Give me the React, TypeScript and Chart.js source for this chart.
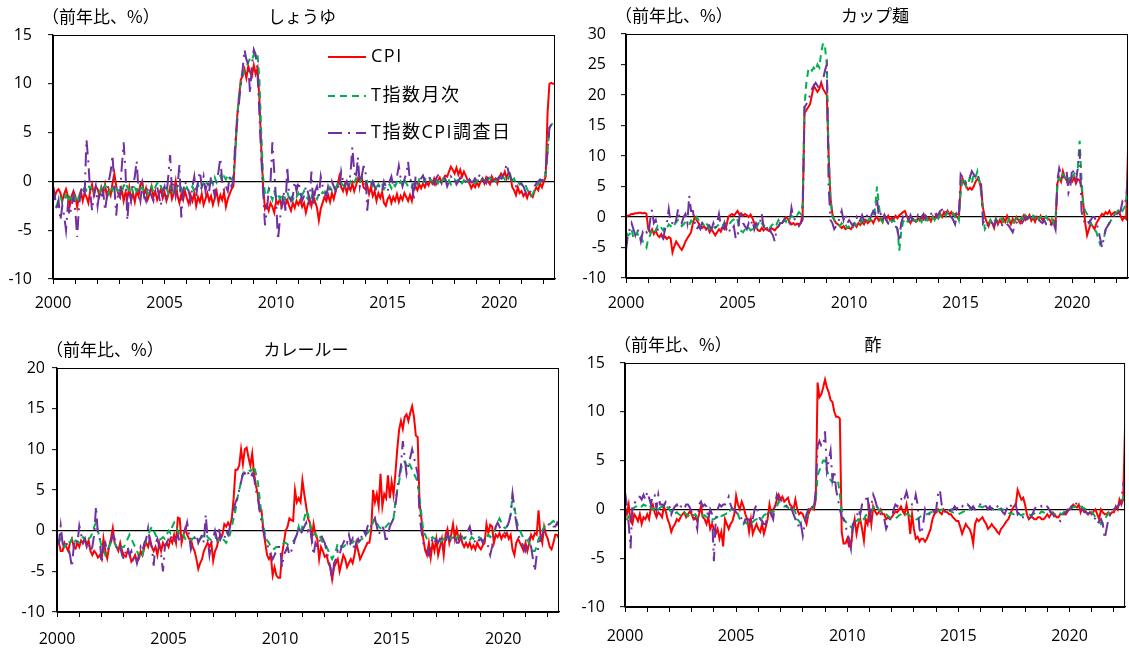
import React, { useEffect, useRef } from "react";
import { Chart, registerables } from "chart.js";

Chart.register(...registerables);

// ---------- axis / label data ----------
const START_YEAR = 2000;
const END_X = 2022.5;
const YEAR_TICKS = [2000, 2001, 2002, 2003, 2004, 2005, 2006, 2007, 2008, 2009, 2010, 2011, 2012, 2013, 2014, 2015, 2016, 2017, 2018, 2019, 2020, 2021, 2022];
const LABELED_YEARS = [2000, 2005, 2010, 2015, 2020];
const SERIES_NAMES = ["CPI", "T指数月次", "T指数CPI調査日"];
const UNIT_LABEL = "（前年比、%）";
const TITLES = ["しょうゆ", "カップ麺", "カレールー", "酢"];

// ---------- しょうゆ (monthly, 2000/01 - 2022/07) ----------
const soyCpi = [
  -0.5, -1.5, -1, -0.8, -1.2, -2, -1.3, -0.8, -1.5, -2.5, -1.5, -1,
  -1.5, -2.6, -1.5, -1, -2, -1.2, -1.6, -2.2, -1, -0.3, -1.4, -0.5,
  -0.8, -1.5, -0.6, -1.2, -0.3, -1.6, -0.8, -1.4, -0.2, 0.8, -0.5, -1.2,
  -1.6, -0.8, -2, -1.1, -1.7, -0.6, -1.9, -1.2, -2.1, -1, -1.5, -0.3,
  0, -1.4, -0.7, -1.8, -1.2, -0.5, -1.6, -1, -1.9, -1.3, -0.8, -1.7,
  -1.1, -2, -1.4, -0.6, -1.8, -1.2, 0, -1.5, -2.2, -1.3, -1.9, -1,
  -1.7, -2.3, -1.4, -2, -1.2, -2.5, -1.6, -2.1, -1.3, -2.4, -1.8, -1.2,
  -2, -1.5, -2.4, -1.7, -1, -2.2, -1.4, -1.9, -1.1, -2.6, -1.8, -1.3,
  -0.8, -0.5, 3, 6.5, 8.5, 10.4, 10.8, 11.5, 10.6, 11.8, 11.2, 10.8,
  11.9, 11, 11.6, 8.5, 3.5, -0.5, -2.8, -2.4, -3, -2.2, -2.6, -3.2,
  -2, -2.3, -1.8, -2.6, -2.1, -2.4, -1.9, -2.5, -3, -2.2, -2.7, -2,
  -2.4, -1.9, -2.6, -2.2, -3.2, -2.4, -1.8, -2.5, -1.5, -2.1, -2.7, -4,
  -2.8, -2.2, -1.6, -2, -1.4, -2.1, -1.2, -1.8, -1, -0.4, 0.5, -0.6,
  -1, -0.3, -1.2, -0.5, -0.9, -0.2, -1, -0.4, 0.3, 0, 0.5, -0.6,
  -0.8, -0.4, -1.3, -0.6, -1.5, -1, -2, -1.2, -1.7, -1.1, -2.2, -2.5,
  -1.8, -1.5, -2.2, -1.6, -2, -1.3, -2.1, -1.5, -1.9, -1.2, -1.6, -2,
  -1.4, -2, -0.8, -0.5, -0.9, -0.3, -0.7, -0.2, -0.6, -0.1, -0.4, 0.2,
  -0.2, 0.3, -0.3, 0.1, 0.4, -0.1, 0.3, 0.6, 0.5, 1, 1.5, 1.2,
  0.8, 1.4, 0.7, 1.2, 0.5, 1, 0.6, 0.1, -0.2, -0.7, -0.3, -0.6,
  -0.1, -0.5, 0, 0.3, -0.2, 0.4, 0, -0.3, 0.5, 0.1, 0.3, -0.2,
  0.4, 0.8, 0.5, 1, 0.3, 0.9, 0.6, -0.6, -0.9, -1.4, -0.6, -1.2,
  -1, -1.5, -1.2, -1.7, -1.1, -1.4, -1.6, -1, -0.6, -0.9, -0.2, -0.6,
  0, 0.5, 7, 10, 10.1, 10, 10,
];
const soyMonthly = [
  -1.2, -2, -2.5, -1.8, -1.5, -2.2, -1.9, -1.4, -2.1, -1.6, -1.8, -1.3,
  -1.7, -2.2, -1.5, -1.2, -1, -0.6, -0.9, -0.4, -0.8, -0.5, -1.1, -0.7,
  -0.9, -1.2, -0.6, -1, -0.4, -0.8, -1.3, -0.5, -0.9, -0.3, -0.7, -1,
  -0.8, -1.1, -0.5, -0.1, -0.6, -0.9, -0.4, -1.2, -0.7, -1, -0.5, -0.8,
  -0.6, -1, -0.7, -1.3, -0.8, -0.5, -1.1, -0.6, -0.2, 0, -0.5, -0.9,
  -1.1, -0.7, -1.2, -0.6, -0.9, -1.4, -0.8, -0.5, -1, -0.7, -1.2, -0.9,
  -0.6, -1, -0.8, -0.5, -1.1, -0.7, -0.3, -0.9, -0.6, -0.2, -0.5, -0.1,
  -0.4, 0.2, -0.3, 0.4, -0.1, 0.3, 0.6, 0, 0.5, 0.2, 0.7, 0.3,
  0.2, 0.5, 2.5, 6.5, 8.8, 10, 10.8, 11.3, 11.8, 12.2, 12.6, 12.4,
  13, 12.8, 13.1, 10.5, 5, 0.5, -1.2, -1.5, -0.8, -1.4, -1.9, -1.1,
  -1.6, -1.2, -1.8, -1.4, -2, -1.5, -1.1, -1.7, -1.3, -1.9, -1.4, -1.6,
  -1.2, -1.7, -1.4, -1, -1.5, -1.8, -1.2, -1.6, -1.1, -1.4, -1.8, -1.3,
  -1.5, -1.1, -1.2, -0.8, -1, -0.6, -0.9, -0.5, -0.7, -0.3, -0.5, -0.2,
  -0.4, -0.6, -0.2, -0.5, 0, -0.3, -0.1, 0.3, 0, -0.2, 0.4, 0.1,
  -0.3, 0, -0.4, -0.1, -0.5, -0.2, -0.6, -0.3, -0.7, -0.4, -0.8, -0.5,
  -0.6, -0.3, -0.7, -0.2, -0.5, -0.1, -0.4, 0, -0.3, 0.2, -0.2, -0.5,
  -0.3, -0.6, -0.2, 0.1, -0.3, 0.2, 0, -0.2, 0.3, 0.1, -0.1, 0.2,
  0, -0.3, 0.1, -0.2, 0.2, -0.1, 0.3, 0, -0.2, 0.1, -0.3, 0,
  0.2, -0.1, 0.3, 0, -0.2, 0.1, -0.3, 0, 0.2, -0.1, 0.1, -0.2,
  0, 0.2, -0.1, 0.3, 0.1, -0.2, 0.2, 0.4, 0.1, 0.3, 0, 0.2,
  0.4, 0.1, 0.5, 0.2, 0.6, 0.3, 0.7, 0.1, 0.3, -0.2, 0, -0.3,
  -0.2, -0.5, -0.3, -0.8, -1.2, -1.5, -1.3, -0.9, -0.6, -0.3, 0, 0.2,
  0.3, 0.8, 3, 5.5, 5.8, 6, 5.8,
];
const soyDay = [
  -0.5, -1.5, -3, -2, -4, -2.5, -3.5, -5, -2.5, -3.5, -2.5, -1.5,
  -3, -5.7, -2.5, -1, -0.5, -1.5, 4.3, 2, -1, -3, -1.5, -0.5,
  -2.5, -1, -1.8, -1, -3, -1.5, 0, 1, 2.7, -0.5, -3.5, -1,
  -1.5, 1.5, 4, 1, -4, -1, -2, -0.5, 0.5, 2.1, -1, -2,
  -0.3, -1.5, -2, -0.5, -1, -1.5, -2, -1, -0.5, -1.5, -2.5, -1,
  -0.5, -1.5, 0.5, 2.7, -1, 0, -1.5, -0.5, 1.7, -3.7, -1, 0,
  -0.5, -1, -2, -0.5, 0.5, -1.5, 0, 1, -0.5, 0.5, -1, 0,
  -1, 0.5, -0.5, -1.5, 0, 1, 2.4, 0, -1, -0.5, -1, 0.5,
  -0.5, 0, 4, 6, 8, 10, 11.5, 13.5, 12.5, 12, 9, 12,
  13.5, 13, 11, 7, 2.5, -1, -4.5, -3, -1, 0, 4, 1,
  -2, -6, -4, -2.5, -1, -3, 1.5, -1.5, -2, -1.5, 0, -1,
  0, -1, -2, -1.5, -0.5, -1, -2, 1, -2.5, -1, -0.5, -1.5,
  0.5, -0.5, -1, -1.5, -0.5, -1, 0, -0.5, -1, -0.3, -0.8, 1,
  0, -0.5, 0, -0.5, 0.8, 3.5, 1, 0.3, 2.5, -0.5, 0.5, 1.5,
  1.5, -3, -1, -0.5, 0, -0.5, -1, -0.5, -0.5, -1, 0, -0.5,
  -1, 0, 0.5, -0.5, 0, 0.5, 1.6, 0.3, -0.5, 0.2, 0.8, 2,
  0, 0.3, -2, 0.5, -0.3, 0, 0.3, 0.6, 0, -0.3, 0.2, 0.5,
  0, -0.3, 0.3, 0.6, 0.2, -0.2, 0.4, 0.3, -0.5, 0, 0.5, 0.2,
  0.3, -0.3, 0, 0.4, 0.1, -0.2, 0, -0.3, 0.2, -0.1, 0, 0.3,
  0, 0.5, 0.8, 0.2, 0, -0.2, 0.5, 0.3, 0, 0.5, 0.3, 0.2,
  0.5, 0.3, 0.6, 1, 1.8, 1, 0.5, 0, -0.3, -0.5, -0.2, 0,
  -0.3, -0.5, -1, -1.5, -1.2, -1, -0.7, -0.5, -0.2, 0, 0.2, 0,
  0.5, 1, 3, 5.5, 5.8, 6, 6,
];

// ---------- カップ麺 ----------
const cupCpi = [
  0, 0.2, 0.3, 0.5, 0.5, 0.6, 0.6, 0.7, 0.7, 0.6, 0.7, 0.5,
  -2, -2.5, -2, -2.8, -2.2, -3, -3.3, -2.8, -3.5, -3.2, -3.6, -3.3,
  -3.5, -5.8, -4.8, -4, -4.5, -5, -5.4, -4.8, -4, -3.5, -3, -2.5,
  -1, 0, -0.5, -1, -1.5, -1.8, -1.5, -2, -1.7, -2.5, -2, -2.5,
  -3, -2.5, -2, -2.4, -1.6, -2, -1.5, 0, 0.3, 0.5, 0.2, 0.6,
  1, 0.4, 0.6, 0.2, 0.5, 0.3, 0, 0.4, -0.2, -1, -1.6, -2.2,
  -2.3, -1.8, -2.2, -1.9, -2.1, -2.3, -1.8, -2, -2.2, -1.8, -1.5, -1,
  -1, -0.5, 0, -0.3, -0.8, -1.2, -1, -1.3, -1.1, -1.2, -1, 0.5,
  17, 17.5, 18, 18.5, 20, 21.5, 21, 20.5, 21, 22, 21, 20.5,
  20, 10, 3, 0.5, -0.5, -1, -1.2, -1.5, -1.8, -1.5, -2, -1.8,
  -1.8, -2, -1.5, -1.2, -1.6, -1, -1.3, -0.8, -1.2, -0.5, -1, -0.7,
  -0.5, -1, -0.3, 0, -0.6, -0.2, -0.8, 0.3, -0.4, 0.2, -0.5, -0.1,
  -0.3, 0.2, -0.2, 0.3, 0.5, 0.8, 1, 0.2, -0.5, -1, -0.3, -0.6,
  -0.8, -0.2, -0.6, 0, -0.4, 0.2, -0.5, -0.1, -0.7, 0.1, -0.3, 0.4,
  -0.2, 0.5, 0, 0.8, 0.2, 1, 0.4, 0.8, 0.3, 0.5, 0, -0.3,
  5, 6.3, 5.5, 5, 4.5, 4.8, 4.5, 5, 5.8, 6.2, 6, 4.5,
  1.5, 0, -0.8, -1.5, -0.5, -1, -1.8, -0.3, -1.2, -0.5, -1, -0.2,
  -0.8, 0.2, -0.5, -1.2, -0.3, -0.8, 0, -0.5, -1, -0.3, 0.3, -0.5,
  -0.2, 0.3, -0.6, -0.1, -0.8, 0, -0.4, 0.2, -0.5, -0.2, 0.1, -0.3,
  -0.5, -1.2, -0.6, -1.4, 5.5, 6.5, 5.8, 7.5, 6.5, 6, 5.5, 6.2,
  5.8, 6.5, 5.5, 6.2, 6, 5, 2, -1, -3, -2, -1, -1.5,
  -2, -1, -0.5, 0, 0.5, 0.3, 0.8, 0.5, 1, 0.3, 0.6, 0.8,
  0.5, 1, 0.2, -0.5, 0, -0.3, 11,
];
const cupMonthly = [
  -2.5, -3, -2.8, -2, -3.5, -3, -2.5, -3.5, -3.2, -4, -4.5, -5,
  -3.5, -3, -2, -2.5, -2.2, -1.5, -2, -1.8, -2.2, -1.5, -1.8, -1.2,
  -1.5, -1, -1.3, -0.8, -0.5, -1, -1.5, -1.2, -0.8, -1, -1.3, -0.6,
  -1, -0.6, 0, -0.5, -1.5, -1, -1.3, -0.8, -1.5, -2, -1.7, -1.5,
  -1.8, -1.5, -1.2, -1, -1.4, -0.9, -1.5, -1.2, -1, -0.6, -0.4, 0,
  -0.5, -2, -2.3, -2.5, -2, -1.5, -1.8, -2.2, -2, -1.5, -1.8, -1.2,
  -0.5, -1, -1.5, -2, -1.8, -2, -1.5, -1.2, -0.8, -1.2, -0.5, -1,
  -1, -0.5, -0.8, 0, -0.3, 0.2, 0, 0.5, 0.3, 0.8, 0.5, 2,
  18, 22, 24, 24.5, 24, 24.5, 24, 25, 24.5, 27, 28.5, 28,
  25, 10, 3, 0, -0.5, -1, -1.2, -1.5, -1, -1.5, -1.2, -1.8,
  -1.5, -1.2, -1.6, -1, -1.3, -0.8, -1, -0.5, -0.8, -0.3, -0.6, -0.2,
  -0.5, -0.2, 1.5, 5, 2, -0.5, -0.8, 0, -0.5, -1, -0.3, -0.8,
  -0.5, -1, -2, -5.5, -2.5, -0.8, -0.5, -1, -0.3, -0.8, -0.2, -0.6,
  -0.5, -1, -0.3, -0.8, 0, -0.5, -0.2, -0.8, -0.3, 0, -0.5, 0.2,
  -0.2, 0.3, 0, 0.5, 0.2, 0.8, 0.5, 0.2, 0.6, 0, 0.3, -0.5,
  4, 6, 6.5, 5, 5.5, 6.5, 5.5, 7, 6.5, 7.5, 6, 4,
  0.5, -2, -1.5, -1, -0.5, -1.2, -0.8, -0.3, -1, -0.6, -0.2, -0.8,
  -0.5, -1, -0.3, -0.8, -1.2, -0.5, -0.2, -0.8, -0.4, 0, -0.5, 0.2,
  -0.3, 0, -0.5, 0.2, -0.2, 0.3, -0.4, 0, 0.3, -0.2, 0.1, -0.5,
  -0.8, -0.3, -1, -0.5, 5, 6.5, 6, 7, 6.5, 5.5, 6, 7,
  6.5, 7, 7.5, 8, 12.5, 6, 2, 1, 0.5, 0, -1, -1.6,
  -2, -2.5, -3.5, -4.5, -4, -3.5, -2, -1.5, -1, -0.5, 0, 0.5,
  0.8, 1.2, 1.5, 1, 1.5, 2, 8,
];
const cupDay = [
  -5.5, -3, -2, -1, -2, -3, -2, -2.5, -4, -2.5, -3, -2.5,
  -3, -0.5, 1.2, -1, -0.5, -2, -2.5, -3, -3.5, -2, -1, 1.3,
  -1, -1, -1.5, -0.5, 1.3, -0.5, -1, 0, 0.5, -1, 3.5, 1,
  1, -1, -2, -1.5, -2, -1, -1.5, -2, -1, -1.5, -2, -1,
  -2, -1, 0.5, -1.5, -2.5, -1, -2, -1.5, -2.5, -2, -1.5, -3.5,
  -3.5, 0, 1, -1, -1.5, -2, -1, -1.5, -0.5, -2, -1, -1.5,
  -1, 0.5, -1.5, -1, -2, -1.5, -2.5, -3, -4, -2, -1.5, -1,
  -1, -0.5, 0, -0.5, -1, 1.5, 0, -0.5, -1, -1.5, -1, -0.5,
  18, 18.5, 19, 20, 21, 21.5, 22, 21.5, 21, 22, 22.5, 24,
  25, 5, -0.5, -1, -2, -1.5, -1, 0, 1, -0.5, 0.5, -1,
  -0.5, -1, -1.5, -0.5, 0, -1, -0.5, 0.3, -0.5, 0.5, 0, -0.5,
  0.3, 1, 0.5, 3, 0, 0.5, -0.5, 0.3, -0.5, -1, -0.5, -0.2,
  -0.8, -1.5, -2, -4, -1, 0, -0.5, 0.5, -0.5, 0.3, -0.5, 0,
  -0.3, 0.3, -0.5, 0, 0.5, -0.2, 0.3, 0, 0.5, 0.8, 1, 0,
  0.5, 1, 1.2, 0.5, 0.8, 1, 0.3, 0, -0.5, -1.2, 0.5, 0,
  7, 6.5, 6, 5.5, 6, 6.5, 7.5, 7, 6.5, 7, 6, 5.5,
  -1, -0.5, -1.2, -1.5, -0.8, -1, -1.5, -0.5, -1, -1.2, -1.5, -1,
  -0.8, -1.2, -1.5, -2, -2.5, -1.5, -1, -0.5, -0.8, -1, -0.5, 0,
  -0.3, 0, 0.3, 0.5, 0, -0.5, -0.3, -0.8, -1, -0.5, -1.2, -1.5,
  -1, -1.5, -1, -2, 6, 8, 7, 6.5, 7, 7.5, 4, 5,
  8, 7, 6, 8, 11, 1, -0.5, -1, -0.5, -1, -0.5, 0,
  0, -1, -2, -3.5, -5, -3.5, -2, -1.5, -1, -0.5, 0, 0.3,
  0, 0.5, 1, 2.5, 2, 3, 7,
];

// ---------- カレールー ----------
const curryCpi = [
  -1, -1.5, -2.5, -2.5, -1.5, -2, -2.5, -1.5, -1, -2, -2.2, -1.5,
  -2, -1.2, -1.5, -1, -1.8, -1.2, -2.5, -3, -2.5, -2.8, -3.3, -3,
  -3.5, -1, -2.5, -3.4, -2, -1, 0.3, -1.5, -2, -2.5, -1.5, -2.5,
  -3, -3.2, -2.5, -2.8, -3.8, -3.5, -3, -3.8, -3.5, -2.5, -3, -2,
  -1.5, -2, -1, -2, -2.5, -2, -3, -1.5, -2.5, -1.5, -2, -1.5,
  -2, -1, -1.5, -0.5, -1.5, 1.6, 1.5, -1.5, -0.5, 0.3, -0.5, -1,
  -1, -2, -2.5, -3.5, -4.7, -4, -3.5, -2.5, -2, -1.5, -2, -1.5,
  -3.7, -2.5, -2, -1, -0.5, -0.5, 0.8, 0.5, 1, 0.5, 1.5, 4,
  7.5, 7.5, 8, 10, 8.2, 10, 10.2, 9, 8, 9.5, 7, 5.5,
  4.5, 2.5, 2.5, 0, -1.5, -3, -3.5, -3, -5.5, -4.5, -5.5, -5.8,
  -5.8, -3, -1.5, 0, 0.5, 1.5, 1.3, 1.2, 5, 3.5, 4, 3.5,
  6.2, 4.5, 3, 1.5, 1, -1, 0.8, -0.5, -1, -3.5, -2, -2.5,
  -3.2, -3, -4, -4.5, -6, -4.5, -4, -3.5, -5, -4, -3, -3.5,
  -4.5, -4, -3.5, -4, -3, -1.5, -2.5, -3.5, -3, -2.5, -2, -1.5,
  -1.5, 0, 5, 3.5, 4.5, 3, 7, 3, 4.5, 4, 6.8, 4,
  6, 4.4, 7, 10, 12.4, 13.5, 12.5, 14, 14.3, 13.5, 14.5, 15.3,
  14, 11.7, 11.5, 3.4, 1.5, -1, -2.4, -3, -1.5, -3.3, -1.5, -2.5,
  -1, -3, -2, -1, -3, -0.5, 0.2, -1.5, -0.5, 0.8, -1, 0.2,
  -1, -0.5, -1.5, -2, -1.5, -2, -1.5, -2.2, -1.8, -2.3, -1.5, -2,
  -2.3, -1.8, -1.5, 0.8, -0.3, 0.7, 0.5, -1.5, -0.5, -0.8, -0.3, -1,
  -0.5, -0.8, -0.3, -1, -0.5, -2.3, -3, -1.5, -1, -1.5, -2, -2.5,
  -1.5, -2.5, -1.5, -0.5, -1, -0.3, -0.5, 2.5, -0.5, -1.5, 0.5, -0.5,
  -1, -2, -2.3, -1.5, -0.5, -0.5, -1,
];
const curryMonthly = [
  -1.5, -1.5, -1, -1.5, -2, -1.5, -1.2, -1.5, -1, -1.5, -1.2, -1.3,
  -1.5, -1, -0.8, -1.2, -1.5, -1, -0.8, -0.3, 0.5, 1, 0, -1,
  -2, -2.5, -3, -2.5, -2, -1.5, -1.2, -1.5, -2, -2.5, -2.2, -2,
  -2, -1.5, -1, -0.5, -1, -1.5, -2, -2.5, -3, -3.5, -3, -2,
  -1, -0.5, 0, 0.5, 0, -0.5, -1, -1.2, -1, -0.8, -1, -0.5,
  0, -0.3, 0.5, 1, 0.5, 0, -0.5, -0.8, -0.5, -1, -0.8, -1,
  -1.2, -1, -0.8, -1, -1.2, -1, -0.8, -0.5, -0.3, -0.8, -1, -1.2,
  -1, -0.8, -1, -1.2, -0.8, -1, -1.2, -1.5, -1, -0.5, 0.5, 1.5,
  2.5, 4, 5, 6, 7, 7.3, 7.5, 7.5, 7.3, 7.5, 8, 7,
  6, 4, 2, 0.5, -0.5, -1.2, -1.5, -2, -2.3, -2.2, -2, -2,
  -2, -1.8, -1.5, -1.5, -1.7, -1.5, -1.5, -1.3, -1, -0.5, 0.5, -0.3,
  0.5, 1.5, 2.5, 2, 1, 0, -0.5, -0.3, -0.8, -0.5, -1, -1.5,
  -1.5, -2, -2.5, -3, -3.5, -3, -2.5, -1.5, -1.8, -2, -2, -1.8,
  -2, -1.8, -1.5, -1.5, -1.2, -1.5, -1.5, -1.2, -1, -1, -0.5, -0.3,
  0, 0.5, 1, 1.5, 1, 0.5, 0.3, 0.5, 0.3, 0.5, 0.8, 1,
  1, 1.5, 3.5, 5, 6, 7.5, 8.5, 8.5, 8, 8.5, 8, 7.5,
  7, 6.5, 6, 4, 2, 0, -0.5, -1, -1.2, -1, -0.8, -1,
  -1, -1.2, -1.5, -1.2, -1, -0.8, -0.5, -0.8, -1, -0.5, -0.8, -1,
  -0.5, -0.3, -0.8, -1, -0.8, -1, -1.2, -0.8, -1, -1.2, -1, -0.8,
  -1, -1.2, -1, -0.8, -0.5, -0.8, -0.5, -0.3, 0.5, 1, 1.5, 1,
  0.5, 0.3, 0.5, 1, 2, 4.3, 3, 1.5, 0.5, 0, -0.5, -1,
  -1, -1.2, -1.5, -2, -2.5, -2.5, -2, -1, -0.5, 0, 0.5, 0.5,
  0.5, 0.8, 1, 1.2, 1, 1, 1,
];
const curryDay = [
  -1, -1.5, 0.6, -1.5, -2, -1.5, -2, -3, -4.5, -2, -1, -1.5,
  0.6, -0.5, -1.5, -1, -2, -1.5, -2.5, -2, -0.5, 3, -0.5, -1,
  -4, -2, -1.5, -2.5, -2, -1.5, -0.5, -1, -2, -2.5, -2, -3,
  -3.5, -2.5, -2, -3, -2.5, -3.5, -3, -4, -3, -2, -2.5, -1.5,
  -1, 0.3, -1.5, -2, -4.3, -1.5, -1, -2, -3, -5, -2, -1.5,
  -1, -0.5, -1, -1.5, -1, -0.5, -1.5, -1, -0.5, 0, 1, -0.5,
  -2.3, -1.5, -1, -0.5, -1.5, -1, -0.5, -1.5, 2, -1, -3, -1.5,
  -1, 0, -1, 0.5, -1, -0.5, -1, 0, -0.5, 0.5, 1.5, 2.5,
  3.5, 4, 5, 6, 7, 7, 7.5, 7, 6.5, 7, 6.5, 5,
  4, 2.5, 1, 0, -1, -1.5, -2.5, -3, -3.5, -3, -2.5, -2,
  -2, -4.5, -3, -2.5, -2, -3, -2.5, -2, -1, -0.5, 0.5, -0.5,
  0, 0.5, 1, 0, 0.5, -1, -3, -1.5, -2, -1.5, -0.5, -1,
  -1.5, -2.5, -3.5, -4.5, -6.2, -4, -3.5, -2.5, -3, -2, -1.5, -1,
  -1.5, -0.5, -1.5, -1, -2.5, -1.5, -1, -1.5, -0.5, 0, -0.5, 0.5,
  1, 0.5, 1, 1.5, 0.5, -0.5, 0, 0.5, 0, -1.5, -0.5, 0.5,
  1, 1.5, 3, 5, 6.5, 8, 11, 9, 7, 8, 9, 10,
  9, 8, 7, 2, 0, -1.5, -2, -2.5, -3, -1.5, -1, -1.5,
  -1, -1.5, -1, -1.5, -2, -1.5, -0.5, -1, -1.5, -1, -0.5, -1.5,
  -1.5, -1, -0.5, -1, -0.5, 0, 0.5, -0.5, -1, -1.5, -1, -1.2,
  -1, -1.5, -1, -1.5, -2, -3, -2, -0.5, 0.5, 1, 0.5, 0,
  0, -0.3, 0.5, 1, 2, 4.5, 2.5, 1, -0.5, -1, -1.5, -2,
  -2.5, -1.5, -1, -2, -3.5, -5, -3, -2, -1, -0.5, 0, 0.5,
  0.5, 1, 0.8, 0.5, 0.5, 1, 0.5,
];

// ---------- 酢 ----------
const vinCpi = [
  0.3, -0.5, 0.5, -1.2, -1.5, -0.5, -0.8, -1.2, -0.5, -1.5, -0.8, -1,
  -0.5, -1, 0.2, 0.5, -0.3, -0.8, -0.3, -0.5, -0.8, 0.3, -0.2, -1,
  -1.5, -2.3, -1.8, -1.5, -1, -1.2, -0.8, -0.5, -0.3, -0.8, -0.5, -0.2,
  -0.5, -1, -0.8, -1.2, -0.5, 0.3, -0.8, -1, -1.5, -0.8, -2, -1.5,
  -2, -2.5, -2, -3, -2.3, -3.8, -1, -1.5, -2, -1.5, -1.2, -0.5,
  1.4, 0.5, 0, 0.8, 0.3, -0.5, -1, -2.3, -1, -2.5, -2, -1.5,
  -2, -2.3, -1.5, -2.5, -1.8, -1, 0.5, -0.5, 0, 0.3, 1, 1.5,
  1, 1.3, 0.8, 1, 1.2, 0.5, 0.3, 0, 1, 0, -0.5, -0.3,
  -0.5, -1, -1.5, -0.5, 0, 0.2, 0, 1, 13, 11.5, 11.8, 12.5,
  13.3, 12.5, 12, 11.2, 11, 10, 9.5, 9.5, 9.3, -2.3, -3.5, -3.5,
  -3, -3.8, -3.8, -2, -1, -2.5, -1.5, -1, -2, -3.2, -1, -1.5,
  0, -1.5, 0.3, -0.2, -0.5, -0.3, 0, -0.5, -0.5, -1, -0.8, -1,
  -0.8, -0.5, -0.2, -0.3, 0, 0.3, -0.2, -0.5, 0.5, -0.5, -2.5, -0.5,
  -2, -3, -2.8, -3.3, -3, -3, -3.3, -3, -2.5, -2, -1, -0.5,
  -0.3, 0, -0.3, -0.5, 0, -0.2, -0.3, -0.5, -0.5, -0.8, -1, -1.2,
  -1.2, -1.8, -2.5, -2, -1.5, -1.8, -2, -2.5, -3.5, -1.5, -1, -1.2,
  -1, -0.8, -1.2, -1.5, -2, -1.8, -1.5, -1.8, -2, -2.3, -2.5, -2,
  -1.8, -1.5, -1.2, -1, -0.5, 0, 0.3, 0.5, 2, 1.5, 1, 1.2,
  0.5, -0.5, -1, -0.8, -0.8, -1, -1, -0.8, -0.8, -1, -1, -0.8,
  -0.5, -0.8, -0.5, -0.3, -0.5, -0.8, -0.8, -0.5, -0.5, -0.3, -0.5, -0.2,
  0, 0.2, 0.5, 0.3, 0.2, 0.5, -0.3, 0.2, 0, -0.3, -0.5, -0.3,
  -0.5, -0.2, 0, -0.5, -1, 0, -0.3, -0.5, -0.5, -0.3, -0.5, -0.3,
  -0.3, 0.3, 0, 1, 0.5, 1, 8.5,
];
const vinMonthly = [
  -1, -1, -0.8, -0.3, 0, 0.2, 0.3, 0.5, 0.4, 0.3, 0.5, 0.4,
  0.3, 0.5, 0.2, 0, 0.1, 0.3, 0, 0.2, 0.3, 0.1, 0.3, 0.2,
  0, -0.3, -0.5, -0.4, -0.3, -0.5, -0.6, -0.4, -0.3, -0.5, -0.7, -0.5,
  -0.4, -0.6, -0.5, -0.8, -0.6, -0.5, -0.7, -0.6, -0.8, -0.9, -1, -1,
  -1, -0.9, -0.8, -1, -0.7, -0.6, -0.5, -0.4, -0.5, 0, 0.1, 0,
  0, -0.5, -1, -1.2, -1.5, -1.3, -1.5, -1.4, -1.2, -1.3, -1.1, -1,
  -1, -0.8, -0.9, -0.6, -0.5, -0.7, -0.4, -0.2, -0.3, 0, 0.3, 0.8,
  0.6, 0.5, 0.3, 0.4, 0.2, 0, 0.2, 0, -0.3, -1, -1.2, -1.5,
  -1.3, -1, -0.8, -0.5, -0.2, 0, 0.5, 1, 3.5, 4, 4.5, 5,
  5, 4, 3.5, 3, 2.8, 2.8, 3, 3, 1.5, 0, -1, -1.2,
  -1.5, -1.5, -1.8, -2, -1.5, -1.2, -1, -1.2, -0.8, -1, -0.6, -0.5,
  -0.5, -0.2, 0.2, 0.5, 0.3, 0, -0.2, -0.3, -0.5, -0.5, -0.7, -0.8,
  -1, -1, -0.9, -0.8, -0.6, -0.5, -0.3, -0.4, -0.5, -0.5, -0.7, -0.8,
  -0.9, -1, -1, -0.8, -0.7, -0.6, -0.5, -0.5, -0.4, -0.3, -0.3, -0.2,
  -0.3, -0.2, -0.1, 0, 0, 0.1, 0, -0.1, -0.2, -0.3, -0.4, -0.5,
  -0.5, -0.4, -0.3, -0.2, 0, 0.1, 0, 0.2, 0.1, 0, 0.2, 0.3,
  0.3, 0.2, 0.3, 0.1, 0, 0.2, 0.1, 0, 0.1, 0.2, 0, 0.1,
  0, -0.1, -0.2, -0.3, -0.5, -0.4, -0.5, -0.3, -0.4, -0.5, -0.6, -0.5,
  -0.5, -0.4, -0.5, -0.6, -0.5, -0.4, -0.5, -0.3, -0.4, -0.2, -0.3, -0.4,
  -0.3, -0.2, -0.3, -0.4, -0.5, -0.6, -0.5, -0.4, -0.5, -0.3, -0.2, -0.1,
  0, 0.1, 0.2, 0.3, 0.2, 0.4, 0.3, 0.2, 0.1, 0, -0.1, -0.2,
  -0.3, -0.5, -0.8, -1, -1.2, -1.5, -1.3, -1, -0.7, -0.4, -0.2, 0,
  0, 0.2, 0.3, 0.5, 0.8, 1.2, 1.5,
];
const vinDay = [
  1.8, 0.5, -1.5, -4, 0.5, 0.5, 1, 1.3, 1.3, 1, 1.5, 1,
  1.8, 1.2, 0.5, 1.5, 1.5, 0, 1.5, 0.5, 0.5, 0.3, 0.8, 0.8,
  0.3, -0.5, 0, 0.3, 0.5, 0, 0.3, 0.3, 0, 0.5, 0.5, 0.2,
  -0.3, -0.8, -1.2, -2, 0.5, 0.8, 0.3, 0.5, 0.3, -1, 0, -0.5,
  -5.3, -1, 0, 0.5, 0.3, 0.5, 0.5, 0.8, 1.3, 0.5, 0, 0,
  -0.3, -0.5, -0.5, -1, -1.5, -1, -1, -1, -2, -1, 0, 0.5,
  -0.5, -1, -1.2, -1.5, -1.5, -0.5, 0, -0.5, -1, 0.5, 1.5, 1,
  1, 0.8, 0.5, 0.3, 0.5, 0.5, 0, -0.5, -1, -1, -2, -1.5,
  -2.7, -1.5, -0.5, 0, 0.5, 0.3, 0, 2, 6.5, 7, 6.5, 6.5,
  8, 4, 5, 6, 3, 4, 2, 1, 0, -0.8, -1, -1.5,
  -2.5, -3, -4, -1.5, -1.2, -1, 0, -0.5, 0.5, 0.5, 1, 1.5,
  -1.5, 0.5, 1.5, 1, 0.3, 0, -0.5, -0.5, -1, -2, -1.5, -1,
  -1, 0, 0.5, 0.3, 0.8, 1, 1.5, 1.2, 1.8, 1, 0.8, 0.5,
  0.5, 1.5, 0.5, -2, -2.5, -1.5, 0, -0.5, -0.5, -0.5, 0, -0.3,
  0, 1.5, 2, 0.5, 0, -0.3, -0.5, -0.3, 0, 0, 0.3, 0,
  0.3, 0.5, 0.3, 0.5, 0.3, 0.5, 0.3, 0, 0.3, 0, 0.3, 0.5,
  0.5, 0.3, 0.5, 0.3, 0, 0.3, 0, 0.2, 0.5, 0.3, 0.5, 0,
  -0.3, -0.5, 0, 0.5, 0.3, 0.5, 0.8, 0.5, -0.5, -0.3, -0.8, -0.8,
  -0.8, -1, -1, -0.8, -0.5, 0, 0.3, 0.5, 0.5, 0.3, 0.5, 0.3,
  0.3, 0, -0.3, -0.5, -0.8, -1, -1, -1.2, -0.8, -0.5, -0.3, 0,
  0, 0.3, 0.5, 0.8, 0.5, 0.3, 0, 0, -0.3, -0.3, -0.5, -0.3,
  -0.5, -0.8, -1, -1.5, -1.2, -1, -1.5, -3, -2, -1, -0.5, 0,
  0, 0.2, 0.3, 0.5, 1, 2.5, 2,
];

// ---------- layout (positions only, no data) ----------
type PanelCfg = {
  title: string;
  cpi: number[];
  monthly: number[];
  day: number[];
  yMin: number;
  yMax: number;
  legend: boolean;
  x: number;
  y: number;
  w: number;
  h: number;
  area: { l: number; t: number; r: number; b: number };
  yPad: number;
  xPad: number;
};

const Y_AXIS_W = 44;
const X_AXIS_H = 34;

const PANELS: PanelCfg[] = [
  { title: TITLES[0], cpi: soyCpi, monthly: soyMonthly, day: soyDay, yMin: -10, yMax: 15, legend: true,
    x: 0, y: 0, w: 564, h: 320, area: { l: 53, t: 35, r: 555, b: 279 }, yPad: 16, xPad: 10 },
  { title: TITLES[1], cpi: cupCpi, monthly: cupMonthly, day: cupDay, yMin: -10, yMax: 30, legend: false,
    x: 564, y: 0, w: 565, h: 320, area: { l: 62, t: 34, r: 564, b: 278 }, yPad: 15, xPad: 11 },
  { title: TITLES[2], cpi: curryCpi, monthly: curryMonthly, day: curryDay, yMin: -10, yMax: 20, legend: false,
    x: 0, y: 320, w: 564, h: 329, area: { l: 57, t: 48, r: 559, b: 292 }, yPad: 7, xPad: 13 },
  { title: TITLES[3], cpi: vinCpi, monthly: vinMonthly, day: vinDay, yMin: -10, yMax: 15, legend: false,
    x: 564, y: 320, w: 565, h: 329, area: { l: 61, t: 43, r: 563, b: 287 }, yPad: 15, xPad: 15 },
];

const toPoints = (vals: number[]) => vals.map((v, i) => ({ x: START_YEAR + i / 12, y: v }));

const decorPlugin = {
  id: "panelDecor",
  afterDraw(chart: any, _args: any, opts: any) {
    const { ctx, chartArea: a } = chart;
    ctx.save();
    ctx.setLineDash([]);
    ctx.strokeStyle = "#000";
    ctx.lineWidth = 1;
    ctx.strokeRect(a.left + 0.5, a.top + 0.5, a.right - a.left - 1, a.bottom - a.top);

    ctx.fillStyle = "#000";
    ctx.textBaseline = "middle";
    ctx.font = '17px "Noto Sans CJK JP"';
    ctx.textAlign = "left";
    ctx.fillText(UNIT_LABEL, a.left - 11, a.top - 18);
    ctx.textAlign = "center";
    ctx.fillText(opts.title, (a.left + a.right) / 2 - 2, a.top - 18);

    if (opts.legend) {
      const rows = [22, 61, 98];
      const x0 = a.left + 275;
      chart.data.datasets.forEach((ds: any, i: number) => {
        const y = a.top + rows[i];
        ctx.strokeStyle = ds.borderColor;
        ctx.lineWidth = 2;
        ctx.setLineDash(ds.borderDash || []);
        ctx.beginPath();
        ctx.moveTo(x0, y);
        ctx.lineTo(x0 + 38, y);
        ctx.stroke();
        ctx.setLineDash([]);
        ctx.fillStyle = "#000";
        ctx.font = '18px "Open Sans", "Noto Sans CJK JP"';
        (ctx as any).letterSpacing = "1.5px";
        ctx.textAlign = "left";
        ctx.fillText(ds.label, x0 + 43, y);
        (ctx as any).letterSpacing = "0px";
      });
    }
    ctx.restore();
  },
};

function buildConfig(cfg: PanelCfg): any {
  const tickFont = { family: '"Open Sans", "Liberation Sans", sans-serif', size: 16 };
  return {
    type: "line",
    data: {
      datasets: [
        { label: SERIES_NAMES[0], data: toPoints(cfg.cpi), borderColor: "#FF0000", borderWidth: 2, pointRadius: 0, tension: 0, order: 3, fill: false },
        { label: SERIES_NAMES[1], data: toPoints(cfg.monthly), borderColor: "#00B050", borderWidth: 2, borderDash: [7, 5], pointRadius: 0, tension: 0, order: 2, fill: false },
        { label: SERIES_NAMES[2], data: toPoints(cfg.day), borderColor: "#7030A0", borderWidth: 2, borderDash: [14, 6, 2, 6], pointRadius: 0, tension: 0, order: 1, fill: false },
      ],
    },
    options: {
      animation: false,
      responsive: false,
      maintainAspectRatio: false,
      events: [],
      layout: {
        padding: {
          left: cfg.area.l - Y_AXIS_W,
          top: cfg.area.t,
          right: cfg.w - cfg.area.r,
          bottom: cfg.h - cfg.area.b - X_AXIS_H,
        },
      },
      plugins: {
        legend: { display: false },
        tooltip: { enabled: false },
        panelDecor: { title: cfg.title, legend: cfg.legend },
      },
      scales: {
        x: {
          type: "linear",
          min: START_YEAR,
          max: END_X,
          afterBuildTicks: (s: any) => {
            s.ticks = YEAR_TICKS.map((v) => ({ value: v }));
          },
          afterFit: (s: any) => {
            s.height = X_AXIS_H;
          },
          grid: { drawOnChartArea: false, drawTicks: true, tickLength: 5, tickColor: "#000", tickWidth: 1 },
          border: { display: true, color: "#000", width: 1.3 },
          ticks: {
            autoSkip: false,
            maxRotation: 0,
            minRotation: 0,
            padding: cfg.xPad,
            color: "#000",
            font: tickFont,
            callback: (v: any) => (LABELED_YEARS.includes(Number(v)) ? String(v) : ""),
          },
        },
        y: {
          type: "linear",
          min: cfg.yMin,
          max: cfg.yMax,
          afterFit: (s: any) => {
            s.width = Y_AXIS_W;
          },
          grid: {
            drawOnChartArea: true,
            color: (c: any) => (c.tick && c.tick.value === 0 ? "#000" : "rgba(0,0,0,0)"),
            lineWidth: 1.3,
            tickLength: 5,
            tickColor: "#000",
            tickWidth: 1,
          },
          border: { display: true, color: "#000", width: 1.3 },
          ticks: { stepSize: 5, padding: cfg.yPad, color: "#000", font: tickFont },
        },
      },
    },
    plugins: [decorPlugin],
  };
}

function Panel({ cfg }: { cfg: PanelCfg }) {
  const ref = useRef<HTMLCanvasElement | null>(null);
  useEffect(() => {
    if (!ref.current) return;
    const chart = new Chart(ref.current, buildConfig(cfg));
    return () => chart.destroy();
  }, [cfg]);
  return (
    <canvas
      ref={ref}
      width={cfg.w}
      height={cfg.h}
      style={{ position: "absolute", left: cfg.x, top: cfg.y, width: cfg.w, height: cfg.h }}
    />
  );
}

export default function App() {
  return (
    <div style={{ position: "absolute", left: 0, top: 0, width: 1129, height: 649, background: "#fff", overflow: "hidden" }}>
      {PANELS.map((p, i) => (
        <Panel key={i} cfg={p} />
      ))}
    </div>
  );
}
